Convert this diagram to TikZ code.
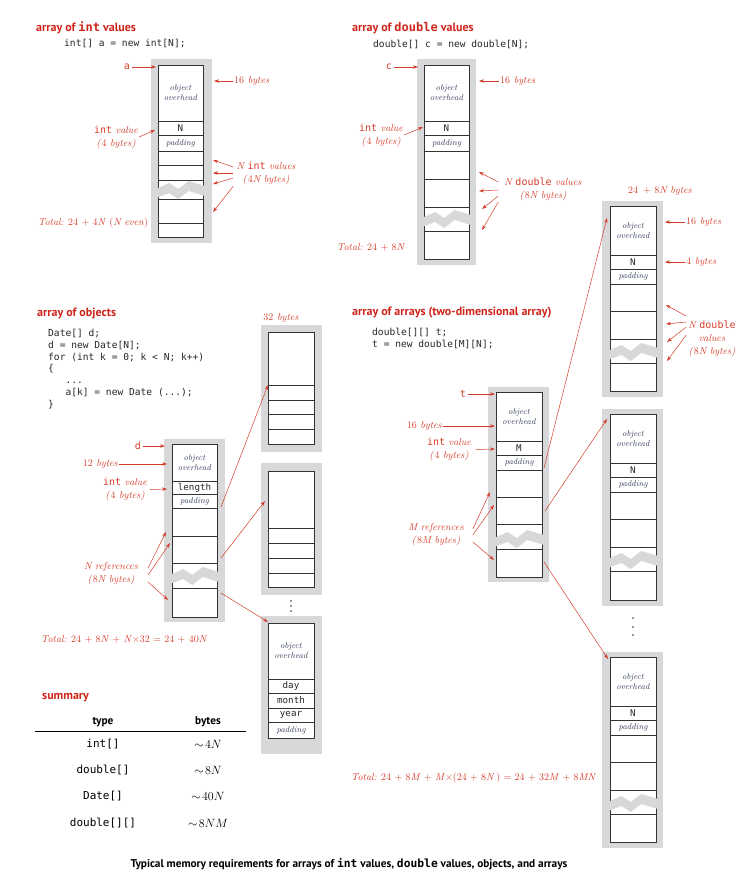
\documentclass[tikz,border=0pt]{standalone}
\usepackage{fontspec}
\setmonofont{DejaVu Sans Mono}
\newfontfamily\headfont{PT Sans}
\usetikzlibrary{arrows.meta}

\definecolor{memgray}{RGB}{215,216,218}
\definecolor{labred}{RGB}{212,60,42}
\definecolor{titred}{RGB}{206,36,26}
\definecolor{ovhd}{RGB}{55,65,95}

\newcommand{\tcode}[1]{{\ttfamily\upshape #1}}
\newcommand{\zigband}[3]{%
  \fill[memgray] ({#1-2},{#3+8}) -- ({#1+0.25*(#2-#1)},{#3+2}) -- ({#1+0.45*(#2-#1)},{#3+8})
    -- ({#1+0.68*(#2-#1)},{#3}) -- ({#2+2},{#3+5}) -- ({#2+2},{#3+15})
    -- ({#1+0.68*(#2-#1)},{#3+10}) -- ({#1+0.45*(#2-#1)},{#3+18}) -- ({#1+0.25*(#2-#1)},{#3+12})
    -- ({#1-2},{#3+17}) -- cycle;}

\tikzset{
  graybg/.style={fill=memgray},
  cellbox/.style={draw=black!80,line width=0.8pt},
  ptr/.style={draw=labred,line width=0.5pt,-{Stealth[length=5pt,width=3.4pt]}},
  lbl/.style={text=labred,font=\fontsize{10}{13}\selectfont\itshape,inner sep=1pt,align=center},
  refl/.style={text=labred,font=\ttfamily\fontsize{10}{12}\selectfont,inner sep=1.5pt},
  ttl/.style={text=titred,font=\headfont\bfseries\fontsize{12}{14}\selectfont,anchor=west,inner sep=0pt},
  codetxt/.style={font=\ttfamily\fontsize{9.6}{11.8}\selectfont,anchor=west,inner sep=0pt,align=left,text=black!85},
  ovh/.style={text=ovhd,font=\fontsize{8.5}{10}\selectfont\itshape,align=center,inner sep=0pt},
  fld/.style={font=\ttfamily\fontsize{9.2}{10}\selectfont,inner sep=0pt,text=black!85},
  tot/.style={text=labred,font=\fontsize{10}{12}\selectfont,anchor=west,inner sep=0pt},
  hdr/.style={font=\headfont\bfseries\fontsize{11.3}{13}\selectfont,inner sep=0pt},
}

\begin{document}
\begin{tikzpicture}[x=1pt,y=-1pt]
  \useasboundingbox (0,0) rectangle (752,892);

  % array of int values
  \node[ttl] (tInt) at (36,28) {array of {\ttfamily int} values};
  \node[codetxt] (cInt) at (64,44) {int[] a = new int[N];};
  \fill[graybg] (151,59) rectangle (212,243);
  \draw[cellbox,fill=white] (158,65) rectangle (203,237);
  \foreach \y in {121,135,151,165,180,199,223} \draw[cellbox] (158,\y) -- (203,\y);
  \zigband{158}{203}{181}
  \node[ovh] (aOver) at (180.5,93) {object\\overhead};
  \node[fld] (aN) at (180.5,128) {N};
  \node[ovh] (aPad) at (180.5,143) {padding};
  \node[refl] (aRef) at (127,67) {a};
  \coordinate (aTop) at (156,67);
  \draw[ptr] (aRef) -- (aTop);
  \node[lbl,anchor=west] (a16) at (233,81) {\textup{16} bytes};
  \coordinate (a16t) at (214,81);
  \draw[ptr] (a16) -- (a16t);
  \node[lbl] (aInt) at (116,137) {\tcode{int} value\\(\textup{4} bytes)};
  \coordinate (aIntT) at (155,130);
  \draw[ptr] (aInt.east) -- (aIntT);
  \node[lbl] (aNv) at (266,173) {\textit{N} \tcode{int} values\\(\textup{4}\textit{N} bytes)};
  \foreach \s/\t [count=\i] in {6/160,0/173,-5/184,-13/212} {
    \coordinate (aT\i) at (213,\t);
    \draw[ptr] ([xshift=-2pt,yshift=\s pt]aNv.west) -- (aT\i);
  }
  \node[tot] (aTot) at (38,223) {\textit{Total:} 24 + 4\textit{N} (\textit{N even})};

  % array of double values
  \node[ttl] (tDbl) at (352,28) {array of {\ttfamily double} values};
  \node[codetxt] (cDbl) at (373,44) {double[] c = new double[N];};
  \fill[graybg] (417,59) rectangle (476,265);
  \draw[cellbox,fill=white] (424,65) rectangle (469,259);
  \foreach \y in {121,135,151,179,207,231} \draw[cellbox] (424,\y) -- (469,\y);
  \zigband{424}{469}{210}
  \node[ovh] (cOver) at (446.5,93) {object\\overhead};
  \node[fld] (cN) at (446.5,128) {N};
  \node[ovh] (cPad) at (446.5,143) {padding};
  \node[refl] (cRef) at (389,67) {c};
  \coordinate (cTop) at (418,67);
  \draw[ptr] (cRef) -- (cTop);
  \node[lbl,anchor=west] (c16) at (499,81) {\textup{16} bytes};
  \coordinate (c16t) at (479,81);
  \draw[ptr] (c16) -- (c16t);
  \node[lbl] (cInt) at (381,135) {\tcode{int} value\\(\textup{4} bytes)};
  \coordinate (cIntT) at (423,127);
  \draw[ptr] (cInt.east) -- (cIntT);
  \node[lbl] (cNv) at (543,189.5) {\textit{N} \tcode{double} values\\(\textup{8}\textit{N} bytes)};
  \foreach \s/\tx/\ty [count=\i] in {7.5/479/172,-0.5/479/191,-6.5/482/209,-12.5/482/230} {
    \coordinate (cT\i) at (\tx,\ty);
    \draw[ptr] ([xshift=-5pt,yshift=\s pt]cNv.west) -- (cT\i);
  }
  \node[tot] (cTot) at (337,247) {\textit{Total:} 24 + 8\textit{N}};

  % array of objects
  \node[ttl] (tObj) at (37,313) {array of objects};
  \node[codetxt,anchor=north west] (cObj) at (48,329) {Date[] d;\\d = new Date[N];\\for (int k = 0; k < N; k++)\\\{\\\phantom{xxx}...\\\phantom{xxx}a[k] = new Date (...);\\\}};
  \fill[graybg] (164,439) rectangle (225,622);
  \draw[cellbox,fill=white] (172,444) rectangle (217,617);
  \foreach \y in {481,494,508,536,563,588} \draw[cellbox] (172,\y) -- (217,\y);
  \zigband{172}{217}{567}
  \node[ovh] (dOver) at (194.5,462.5) {object\\overhead};
  \node[fld] (dLen) at (194.5,487.5) {length};
  \node[ovh] (dPad) at (194.5,501) {padding};
  \node[refl] (dRef) at (138,446) {d};
  \coordinate (dTop) at (165,446);
  \draw[ptr] (dRef) -- (dTop);
  \node[lbl,anchor=east] (d12) at (119,464) {\textup{12} bytes};
  \coordinate (d12t) at (167,464);
  \draw[ptr] (d12) -- (d12t);
  \node[lbl] (dInt) at (125,489.5) {\tcode{int} value\\(\textup{4} bytes)};
  \coordinate (dIntT) at (167,489);
  \draw[ptr] ([xshift=2pt]dInt.east) -- (dIntT);
  \node[lbl] (dRefs) at (111,573.5) {\textit{N} references\\(\textup{8}\textit{N} bytes)};
  \foreach \s/\tx/\ty [count=\i] in {5.5/166/532,-1.5/170/543,-8.5/168/600} {
    \coordinate (dT\i) at (\tx,\ty);
    \draw[ptr] ([xshift=9pt,yshift=\s pt]dRefs.east) -- (dT\i);
  }
  \node[lbl] (d32) at (281,318) {\textup{32} bytes};
  \fill[graybg] (261,325) rectangle (322,452);
  \draw[cellbox,fill=white] (268,332) rectangle (314,444);
  \foreach \y in {385,400,414,429} \draw[cellbox] (268,\y) -- (314,\y);
  \fill[graybg] (261,463) rectangle (322,595);
  \draw[cellbox,fill=white] (268,471) rectangle (314,587);
  \foreach \y in {528,543,558,573} \draw[cellbox] (268,\y) -- (314,\y);
  \foreach \y in {601,606,611} \fill[black!80] (291,\y) circle (0.8);
  \fill[graybg] (261,616) rectangle (322,754);
  \draw[cellbox,fill=white] (268,623) rectangle (314,738);
  \foreach \y in {679,693,708,722} \draw[cellbox] (268,\y) -- (314,\y);
  \node[ovh] (eOver) at (291,651) {object\\overhead};
  \node[fld] (eDay) at (291,686) {day};
  \node[fld] (eMon) at (291,700.5) {month};
  \node[fld] (eYear) at (291,715) {year};
  \node[ovh] (ePad) at (291,730) {padding};
  \coordinate (dOut1) at (221,507);
  \coordinate (dOut2) at (221,558);
  \coordinate (dOut3) at (221,593);
  \coordinate (date1) at (268,385);
  \coordinate (date2) at (265,501);
  \coordinate (date3) at (268,622);
  \draw[ptr] (dOut1) -- (date1);
  \draw[ptr] (dOut2) -- (date2);
  \draw[ptr] (dOut3) -- (date3);
  \node[tot] (dTot) at (41,639) {\textit{Total:} 24 + 8\textit{N} + \textit{N}$\times$32 = 24 + 40\textit{N}};

  % array of arrays
  \node[ttl] (tArr) at (352,313) {array of arrays (two-dimensional array)};
  \node[codetxt,anchor=north west] (cArr) at (372,328) {double[][] t;\\t = new double[M][N];};
  \fill[graybg] (488,387) rectangle (549,582);
  \draw[cellbox,fill=white] (496,392) rectangle (542,577);
  \foreach \y in {441,455,470,497,524,549} \draw[cellbox] (496,\y) -- (542,\y);
  \zigband{496}{542}{530}
  \node[ovh] (tOver) at (519,416.5) {object\\overhead};
  \node[fld] (tM) at (519,448) {M};
  \node[ovh] (tPad) at (519,462.5) {padding};
  \node[refl] (tRef) at (463,394) {t};
  \coordinate (tTop) at (495,394);
  \draw[ptr] (tRef) -- (tTop);
  \node[lbl,anchor=east] (t16) at (443,426) {\textup{16} bytes};
  \coordinate (t16t) at (495,426);
  \draw[ptr] (t16) -- (t16t);
  \node[lbl] (tInt) at (449,449.5) {\tcode{int} value\\(\textup{4} bytes)};
  \coordinate (tIntT) at (495,449);
  \draw[ptr] ([xshift=4pt]tInt.east) -- (tIntT);
  \node[lbl] (tRefs) at (436,534.5) {\textit{M} references\\(\textup{8}\textit{M} bytes)};
  \foreach \s/\tx/\ty [count=\i] in {5.5/490/492,-0.5/494/505,-7.5/494/560} {
    \coordinate (tT\i) at (\tx,\ty);
    \draw[ptr] ([xshift=8pt,yshift=\s pt]tRefs.east) -- (tT\i);
  }
  % rows
  \foreach \yt/\yb [count=\i] in {201/397,409/606,652/848} {
    \fill[graybg] (602,\yt) rectangle (663,\yb);
    \draw[cellbox,fill=white] (610,\yt+5) rectangle (656,\yb-6);
    \foreach \d in {54,68,83,110,138,162} \draw[cellbox] (610,\yt+\d) -- (656,\yt+\d);
    \zigband{610}{656}{\yt+142}
    \node[ovh] (rOver\i) at (633,\yt+29.5) {object\\overhead};
    \node[fld] (rN\i) at (633,\yt+61) {N};
    \node[ovh] (rPad\i) at (633,\yt+75.5) {padding};
  }
  \foreach \y in {618,627,635} \fill[black!80] (633,\y) circle (0.8);
  \coordinate (tOut1) at (544,468);
  \coordinate (tOut2) at (545,511);
  \coordinate (tOut3) at (544,562);
  \coordinate (row1) at (607,218);
  \coordinate (row2) at (607,419);
  \coordinate (row3) at (608,659);
  \draw[ptr] (tOut1) -- (row1);
  \draw[ptr] (tOut2) -- (row2);
  \draw[ptr] (tOut3) -- (row3);
  \node[lbl] (rTop) at (660,191) {\textup{24 \,+ 8}\textit{N} bytes};
  \node[lbl,anchor=west] (r16) at (685,222) {\textup{16} bytes};
  \coordinate (r16t) at (665,222);
  \draw[ptr] (r16) -- (r16t);
  \node[lbl,anchor=west] (r4) at (685,262) {\textup{4} bytes};
  \coordinate (r4t) at (665,262);
  \draw[ptr] (r4) -- (r4t);
  \node[lbl] (rNv) at (712,339) {\textit{N} \tcode{double}\\values\\(\textup{8}\textit{N} bytes)};
  \foreach \s/\tx/\ty [count=\i] in {23/666/305,17/666/324,12/667/342,4/667/361} {
    \coordinate (rT\i) at (\tx,\ty);
    \draw[ptr] ([xshift=-1pt,yshift=\s pt]rNv.west) -- (rT\i);
  }
  \node[tot] (tTot) at (351,778) {\textit{Total:} 24 + 8\textit{M} + \textit{M}$\times$(24 + 8\textit{N}\,) = 24 + 32\textit{M} + 8\textit{MN}};

  % summary
  \node[ttl] (tSum) at (42,698) {summary};
  \node[hdr] (hType) at (103,722) {type};
  \node[hdr] (hBytes) at (208,722) {bytes};
  \draw[line width=0.9pt] (35,731) -- (246,731);
  \foreach \t/\b/\y [count=\i] in {int[]/4N/744,double[]/8N/770,Date[]/40N/796,double[][]/8NM/823} {
    \node[font=\ttfamily\fontsize{11}{13}\selectfont,inner sep=0pt] (sT\i) at (103,\y) {\t};
    \node[font=\fontsize{12.5}{14}\selectfont,inner sep=0pt] (sB\i) at (208,\y) {$\sim\!\b$};
  }

  \node[hdr] (cap) at (349,864) {Typical memory requirements for arrays of {\ttfamily int} values, {\ttfamily double} values, objects, and arrays};
\end{tikzpicture}
\end{document}
